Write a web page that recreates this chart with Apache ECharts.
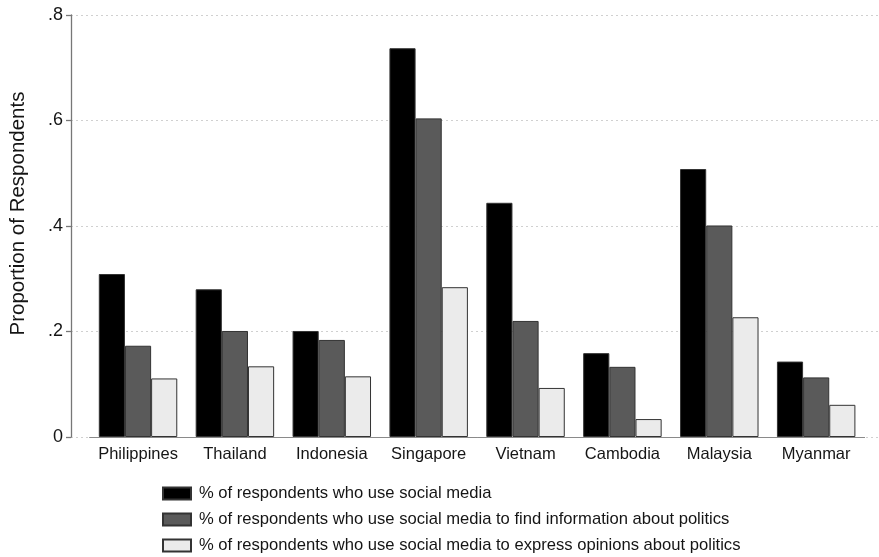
<!DOCTYPE html>
<html>
<head>
<meta charset="utf-8">
<script src="https://cdn.jsdelivr.net/npm/echarts@6/dist/echarts.min.js"></script>
<style>html,body{margin:0;padding:0;background:#fff;}#c{width:879px;height:557px;}</style>
</head>
<body>
<div id="c"></div>
<script>
const categories = ['Philippines','Thailand','Indonesia','Singapore','Vietnam','Cambodia','Malaysia','Myanmar'];
const seriesNames = [
  '% of respondents who use social media',
  '% of respondents who use social media to find information about politics',
  '% of respondents who use social media to express opinions about politics'
];
const useSocial = [0.309, 0.280, 0.201, 0.737, 0.444, 0.159, 0.508, 0.143];
const findInfo  = [0.173, 0.201, 0.184, 0.604, 0.220, 0.133, 0.401, 0.113];
const express   = [0.111, 0.134, 0.115, 0.284, 0.093, 0.034, 0.227, 0.061];
const yTickLabels = ['0', '.2', '.4', '.6', '.8'];
const yTitle = 'Proportion of Respondents';

const font = '"Liberation Sans", Arial, Helvetica, sans-serif';
const fills = ['#000000', '#5a5a5a', '#ebebeb'];
const values = [useSocial, findInfo, express];

const chart = echarts.init(document.getElementById('c'), null, {renderer: 'canvas'});
chart.setOption({
  animation: false,
  backgroundColor: '#ffffff',
  textStyle: {fontFamily: font},
  grid: [
    {left: 89.6, right: 14.4, top: 15, bottom: 120, containLabel: false, outerBoundsMode: 'none'},
    {left: 71, right: 1, top: 15, bottom: 120, containLabel: false, outerBoundsMode: 'none'}
  ],
  legend: {
    orient: 'vertical',
    left: 162,
    top: 485,
    height: 90,
    padding: 0,
    itemWidth: 28,
    itemHeight: 12,
    itemGap: 9,
    icon: 'rect',
    textStyle: {fontSize: 16.6, color: '#151515', fontFamily: font, padding: [0, 0, 0, 3]},
    data: seriesNames
  },
  xAxis: [
    {
      type: 'category', gridIndex: 0, data: categories,
      axisLine: {show: true, lineStyle: {color: '#8a8a8a', width: 1}},
      axisTick: {show: false},
      axisLabel: {fontSize: 16.5, color: '#151515', margin: 9, fontFamily: font, interval: 0},
      splitLine: {show: false}
    },
    {
      type: 'value', gridIndex: 1, min: 0, max: 1, show: false
    }
  ],
  yAxis: [
    {
      type: 'value', gridIndex: 0, min: 0, max: 0.8, interval: 0.2, show: false
    },
    {
      type: 'value', gridIndex: 1, min: 0, max: 0.8, interval: 0.2,
      name: yTitle, nameLocation: 'middle', nameGap: 42, nameRotate: 90,
      nameTextStyle: {fontSize: 20.5, color: '#151515', fontFamily: font, padding: [0, 0, 0, 25]},
      axisLine: {show: true, lineStyle: {color: '#777', width: 1.3}},
      axisTick: {show: true, length: 5, lineStyle: {color: '#777', width: 1.3}},
      axisLabel: {
        fontSize: 18, color: '#151515', margin: 8, fontFamily: font,
        formatter: v => yTickLabels[Math.round(v / 0.2)]
      },
      splitLine: {show: true, lineStyle: {color: '#d0d0d0', type: [2, 3], width: 1}}
    }
  ],
  series: seriesNames.map((name, i) => ({
    name: name,
    type: 'bar',
    xAxisIndex: 0,
    yAxisIndex: 0,
    data: values[i],
    barGap: '0%',
    barCategoryGap: '19%',
    itemStyle: {color: fills[i], borderColor: '#333', borderWidth: 1}
  }))
});
</script>
</body>
</html>
